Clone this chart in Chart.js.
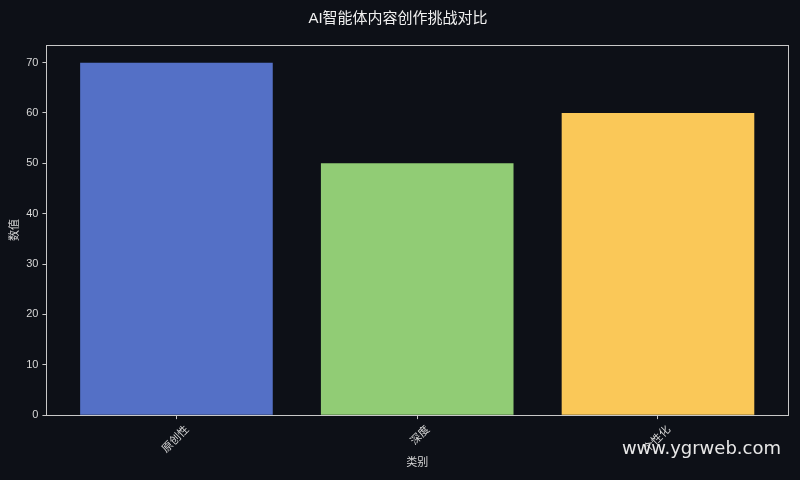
<!DOCTYPE html>
<html><head><meta charset="utf-8">
<script src="https://cdn.jsdelivr.net/npm/chart.js@4"></script>
<style>html,body{margin:0;padding:0;background:#0d1017;}#wrap{width:800px;height:480px;}</style>
</head><body><div id="wrap"><canvas id="c" width="800" height="480"></canvas></div>
<script>
const categories = ['原创性', '深度', '个性化'];
const values = [70, 50, 60];
const colors = ['#5470c6', '#91cc75', '#fac858'];
const yTicks = [0, 10, 20, 30, 40, 50, 60, 70];
const titleText = 'AI智能体内容创作挑战对比';
const xTitle = '类别';
const yTitle = '数值';
const watermark = 'www.ygrweb.com';

const FONT = "'Liberation Sans', 'Noto Sans CJK SC', sans-serif";
const fg = '#d8d8d8';
const frame = '#c8c8c8';

const bgPlugin = {
  id: 'bg',
  beforeDraw(chart) {
    const ctx = chart.ctx;
    ctx.save();
    ctx.fillStyle = '#0d1017';
    ctx.fillRect(0, 0, chart.width, chart.height);
    ctx.restore();
  },
  afterDraw(chart) {
    const ctx = chart.ctx, a = chart.chartArea;
    ctx.save();
    ctx.strokeStyle = frame;
    ctx.lineWidth = 1;
    ctx.strokeRect(Math.round(a.left) + 0.5, Math.round(a.top) + 0.5, Math.round(a.right - a.left), Math.round(a.bottom - a.top));
    ctx.fillStyle = '#e8e8e8';
    ctx.font = "18px 'DejaVu Sans', sans-serif";
    ctx.textAlign = 'right';
    ctx.textBaseline = 'middle';
    ctx.fillText(watermark, 781, 449);
    ctx.restore();
  }
};

new Chart(document.getElementById('c'), {
  type: 'bar',
  data: {
    datasets: [{
      data: values.map((v, i) => ({x: i, y: v})),
      backgroundColor: colors,
      borderWidth: 0,
      barPercentage: 0.8,
      categoryPercentage: 1.0
    }]
  },
  options: {
    responsive: false,
    animation: false,
    layout: {padding: {left: 8, right: 12, top: 0, bottom: 10}},
    plugins: {
      legend: {display: false},
      tooltip: {enabled: false},
      title: {
        display: true, text: titleText, color: '#f0f0f0',
        font: {family: FONT, size: 15, weight: 'normal'},
        padding: {top: 10, bottom: 17}
      }
    },
    scales: {
      x: {
        type: 'linear',
        offset: false,
        min: -0.54, max: 2.54,
        afterBuildTicks(scale) { scale.ticks = categories.map((c, i) => ({value: i})); },
        ticks: {
          color: fg, font: {family: FONT, size: 11},
          minRotation: 45, maxRotation: 45,
          labelOffset: 11, padding: 4,
          callback: (v) => categories[v]
        },
        grid: {display: true, drawOnChartArea: false, tickLength: 4, color: frame, offset: false},
        border: {display: true, color: frame},
        title: {display: true, text: xTitle, color: fg, font: {family: FONT, size: 11}, padding: {top: -3, bottom: 0}}
      },
      y: {
        min: 0, max: 73.5,
        afterBuildTicks(scale) { scale.ticks = yTicks.map(v => ({value: v})); },
        ticks: {color: fg, font: {family: FONT, size: 11}, padding: 4},
        grid: {display: true, drawOnChartArea: false, tickLength: 4, color: frame},
        border: {display: true, color: frame},
        title: {display: true, text: yTitle, color: fg, font: {family: FONT, size: 11}, padding: {top: 0, bottom: 1}}
      }
    }
  },
  plugins: [bgPlugin]
});
</script></body></html>
